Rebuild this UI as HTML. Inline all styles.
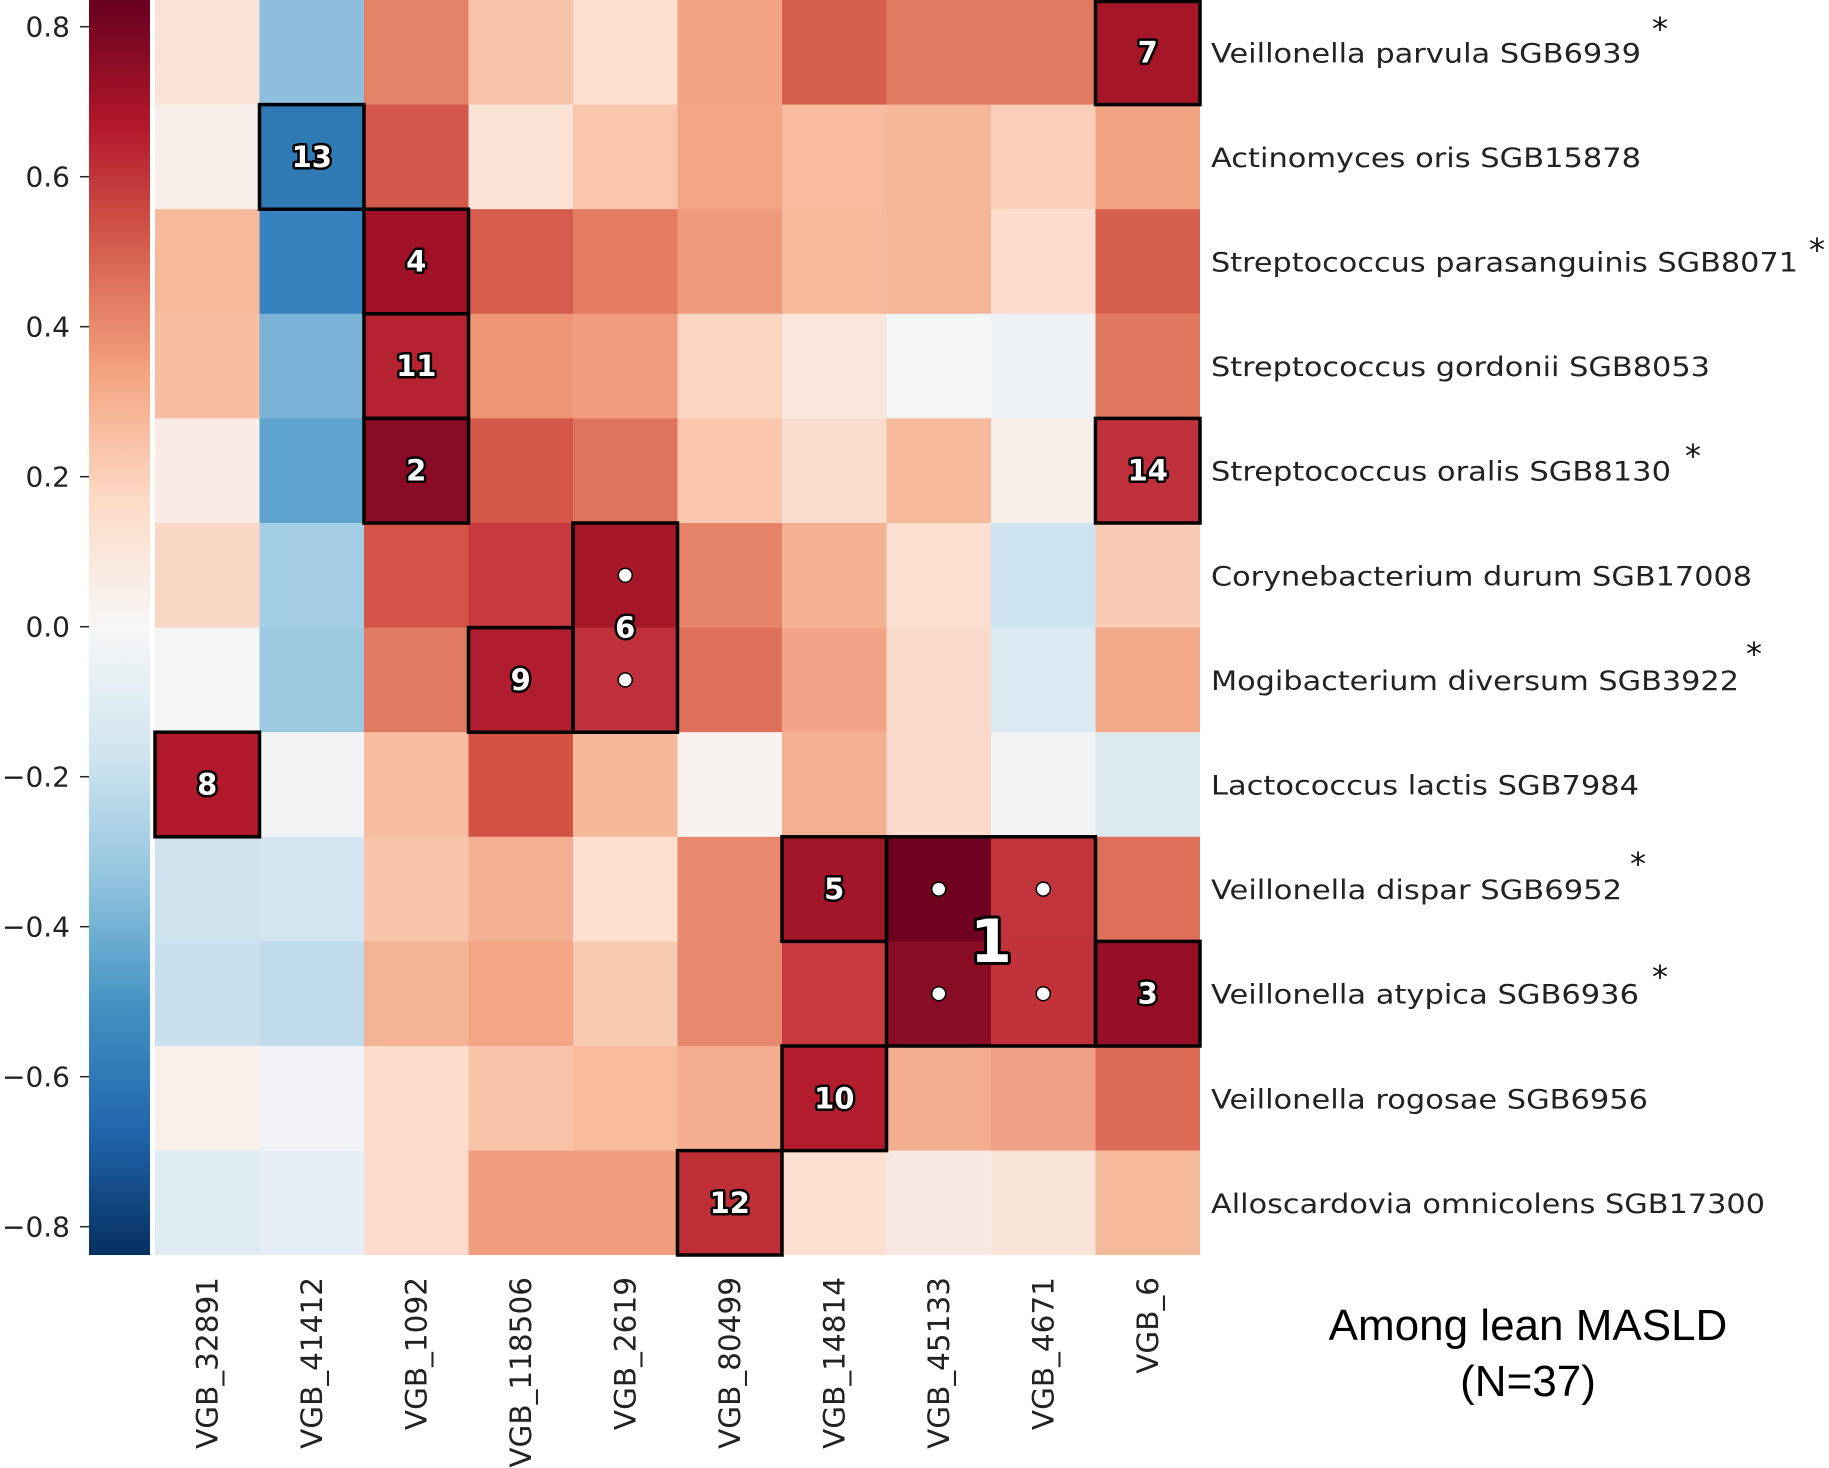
<!DOCTYPE html>
<html><head><meta charset="utf-8"><style>html,body{margin:0;padding:0;background:#fff;}svg{display:block}</style></head>
<body>
<svg width="1829" height="1468" viewBox="0 0 1829 1468" xmlns="http://www.w3.org/2000/svg" font-family="'DejaVu Sans', 'Liberation Sans', sans-serif">
<defs>
<linearGradient id="cb" x1="0" y1="0" x2="0" y2="1">
<stop offset="0" stop-color="#67001f"/><stop offset="0.1" stop-color="#b2182b"/><stop offset="0.2" stop-color="#d6604d"/><stop offset="0.3" stop-color="#f4a582"/><stop offset="0.4" stop-color="#fddbc7"/><stop offset="0.5" stop-color="#f7f7f7"/><stop offset="0.6" stop-color="#d1e5f0"/><stop offset="0.7" stop-color="#92c5de"/><stop offset="0.8" stop-color="#4393c3"/><stop offset="0.9" stop-color="#2166ac"/><stop offset="1" stop-color="#053061"/>
</linearGradient>
</defs>
<rect x="89" y="0" width="61" height="1255" fill="url(#cb)"/>

<g>
<g transform="translate(0,0)"><rect x="155" width="105" height="105" fill="#f9e2d6"/><rect x="259.5" width="105" height="105" fill="#8cbfdc"/><rect x="364" width="105" height="105" fill="#e58368"/><rect x="468.5" width="105" height="105" fill="#f8c4a9"/><rect x="573" width="105" height="105" fill="#fbe0d1"/><rect x="677.5" width="105" height="105" fill="#f3a583"/><rect x="782" width="105" height="105" fill="#d65f4d"/><rect x="886.5" width="105" height="105" fill="#e17b61"/><rect x="991" width="105" height="105" fill="#e07a60"/><rect x="1095.5" width="104.5" height="105" fill="#a41628"/></g>
<g transform="translate(0,104.6)"><rect x="155" width="105" height="105" fill="#f8ede8"/><rect x="259.5" width="105" height="105" fill="#2f79b5"/><rect x="364" width="105" height="105" fill="#d4594a"/><rect x="468.5" width="105" height="105" fill="#fbe3d6"/><rect x="573" width="105" height="105" fill="#f8c6ad"/><rect x="677.5" width="105" height="105" fill="#f2a686"/><rect x="782" width="105" height="105" fill="#f7bca0"/><rect x="886.5" width="105" height="105" fill="#f6b799"/><rect x="991" width="105" height="105" fill="#f9cfb8"/><rect x="1095.5" width="104.5" height="105" fill="#f2a482"/></g>
<g transform="translate(0,209.2)"><rect x="155" width="105" height="105" fill="#f6b99b"/><rect x="259.5" width="105" height="105" fill="#3581bd"/><rect x="364" width="105" height="105" fill="#a11228"/><rect x="468.5" width="105" height="105" fill="#d65c4b"/><rect x="573" width="105" height="105" fill="#e47c62"/><rect x="677.5" width="105" height="105" fill="#ee9a7c"/><rect x="782" width="105" height="105" fill="#f6b99b"/><rect x="886.5" width="105" height="105" fill="#f5b697"/><rect x="991" width="105" height="105" fill="#fbdccd"/><rect x="1095.5" width="104.5" height="105" fill="#d6604d"/></g>
<g transform="translate(0,313.8)"><rect x="155" width="105" height="105" fill="#f7bea2"/><rect x="259.5" width="105" height="105" fill="#7ab3d6"/><rect x="364" width="105" height="105" fill="#b52230"/><rect x="468.5" width="105" height="105" fill="#ec9676"/><rect x="573" width="105" height="105" fill="#f09d7f"/><rect x="677.5" width="105" height="105" fill="#fbd6c3"/><rect x="782" width="105" height="105" fill="#f9e7dd"/><rect x="886.5" width="105" height="105" fill="#f4f5f5"/><rect x="991" width="105" height="105" fill="#eef2f5"/><rect x="1095.5" width="104.5" height="105" fill="#e0785f"/></g>
<g transform="translate(0,418.4)"><rect x="155" width="105" height="105" fill="#f9ebe5"/><rect x="259.5" width="105" height="105" fill="#5fa3cf"/><rect x="364" width="105" height="105" fill="#8a0b25"/><rect x="468.5" width="105" height="105" fill="#d55849"/><rect x="573" width="105" height="105" fill="#df735c"/><rect x="677.5" width="105" height="105" fill="#f8c7ae"/><rect x="782" width="105" height="105" fill="#fadccd"/><rect x="886.5" width="105" height="105" fill="#f6ba9c"/><rect x="991" width="105" height="105" fill="#f8efeb"/><rect x="1095.5" width="104.5" height="105" fill="#c0303a"/></g>
<g transform="translate(0,523)"><rect x="155" width="105" height="105" fill="#fad6c4"/><rect x="259.5" width="105" height="105" fill="#a4cee4"/><rect x="364" width="105" height="105" fill="#d35446"/><rect x="468.5" width="105" height="105" fill="#c83a3f"/><rect x="573" width="105" height="105" fill="#a6172a"/><rect x="677.5" width="105" height="105" fill="#e58368"/><rect x="782" width="105" height="105" fill="#f5b293"/><rect x="886.5" width="105" height="105" fill="#fbe0d2"/><rect x="991" width="105" height="105" fill="#cde3ef"/><rect x="1095.5" width="104.5" height="105" fill="#f9cbb4"/></g>
<g transform="translate(0,627.6)"><rect x="155" width="105" height="105" fill="#f5f6f6"/><rect x="259.5" width="105" height="105" fill="#9dcae1"/><rect x="364" width="105" height="105" fill="#e07a60"/><rect x="468.5" width="105" height="105" fill="#b01d2e"/><rect x="573" width="105" height="105" fill="#c0303a"/><rect x="677.5" width="105" height="105" fill="#de6f59"/><rect x="782" width="105" height="105" fill="#f2a586"/><rect x="886.5" width="105" height="105" fill="#fadbcb"/><rect x="991" width="105" height="105" fill="#dbe9f2"/><rect x="1095.5" width="104.5" height="105" fill="#f3a988"/></g>
<g transform="translate(0,732.2)"><rect x="155" width="105" height="105" fill="#b2192d"/><rect x="259.5" width="105" height="105" fill="#f2f3f4"/><rect x="364" width="105" height="105" fill="#f7bda0"/><rect x="468.5" width="105" height="105" fill="#d25243"/><rect x="573" width="105" height="105" fill="#f6b89a"/><rect x="677.5" width="105" height="105" fill="#f8f3f1"/><rect x="782" width="105" height="105" fill="#f4b092"/><rect x="886.5" width="105" height="105" fill="#fbdacb"/><rect x="991" width="105" height="105" fill="#f2f3f5"/><rect x="1095.5" width="104.5" height="105" fill="#dde9f1"/></g>
<g transform="translate(0,836.8)"><rect x="155" width="105" height="105" fill="#cfe3ef"/><rect x="259.5" width="105" height="105" fill="#d3e5f0"/><rect x="364" width="105" height="105" fill="#f8c5ab"/><rect x="468.5" width="105" height="105" fill="#f4b092"/><rect x="573" width="105" height="105" fill="#fbe0d2"/><rect x="677.5" width="105" height="105" fill="#e8896e"/><rect x="782" width="105" height="105" fill="#a31529"/><rect x="886.5" width="105" height="105" fill="#6e0220"/><rect x="991" width="105" height="105" fill="#c1343c"/><rect x="1095.5" width="104.5" height="105" fill="#de6f59"/></g>
<g transform="translate(0,941.4)"><rect x="155" width="105" height="105" fill="#c9e0ee"/><rect x="259.5" width="105" height="105" fill="#c0dbeb"/><rect x="364" width="105" height="105" fill="#f5b395"/><rect x="468.5" width="105" height="105" fill="#f3a686"/><rect x="573" width="105" height="105" fill="#f9cab2"/><rect x="677.5" width="105" height="105" fill="#e8896e"/><rect x="782" width="105" height="105" fill="#c73a3e"/><rect x="886.5" width="105" height="105" fill="#880c24"/><rect x="991" width="105" height="105" fill="#c1323b"/><rect x="1095.5" width="104.5" height="105" fill="#970f26"/></g>
<g transform="translate(0,1046)"><rect x="155" width="105" height="105" fill="#f9efeb"/><rect x="259.5" width="105" height="105" fill="#f1f2f5"/><rect x="364" width="105" height="105" fill="#fbdccd"/><rect x="468.5" width="105" height="105" fill="#f8c3a8"/><rect x="573" width="105" height="105" fill="#f7bb9d"/><rect x="677.5" width="105" height="105" fill="#f4ae8f"/><rect x="782" width="105" height="105" fill="#b31c2c"/><rect x="886.5" width="105" height="105" fill="#f4ad8e"/><rect x="991" width="105" height="105" fill="#f1a183"/><rect x="1095.5" width="104.5" height="105" fill="#dd6b56"/></g>
<g transform="translate(0,1150.6)"><rect x="155" width="105" height="104.4" fill="#deebf3"/><rect x="259.5" width="105" height="104.4" fill="#e4eef4"/><rect x="364" width="105" height="104.4" fill="#fbdccc"/><rect x="468.5" width="105" height="104.4" fill="#f09e7e"/><rect x="573" width="105" height="104.4" fill="#f09e7e"/><rect x="677.5" width="105" height="104.4" fill="#bf2f37"/><rect x="782" width="105" height="104.4" fill="#fbe0d2"/><rect x="886.5" width="105" height="104.4" fill="#f9e8e1"/><rect x="991" width="105" height="104.4" fill="#fae5d9"/><rect x="1095.5" width="104.5" height="104.4" fill="#f6ba9c"/></g>
</g>

<g fill="none" stroke="#000" stroke-width="3.5">
<rect x="1095.5" y="1.5" width="104.5" height="103.1"/>
<rect x="259.5" y="104.6" width="104.5" height="104.6"/>
<rect x="364" y="209.2" width="104.5" height="104.6"/>
<rect x="364" y="313.8" width="104.5" height="104.6"/>
<rect x="364" y="418.4" width="104.5" height="104.6"/>
<rect x="1095.5" y="418.4" width="104.5" height="104.6"/>
<rect x="468.5" y="627.6" width="104.5" height="104.6"/>
<rect x="155" y="732.2" width="104.5" height="104.6"/>
<rect x="782" y="836.8" width="104.5" height="104.6"/>
<rect x="1095.5" y="941.4" width="104.5" height="104.6"/>
<rect x="782" y="1046" width="104.5" height="104.6"/>
<rect x="677.5" y="1150.6" width="104.5" height="104.4"/>
<rect x="573" y="523" width="104.5" height="209.2"/>
<rect x="886.5" y="836.8" width="209" height="209.2"/>
</g>

<g fill="#fff" stroke="#000" stroke-width="1.5">
<circle cx="625.25" cy="575.3" r="7"/><circle cx="625.25" cy="679.9" r="7"/>
<circle cx="938.75" cy="889.1" r="7"/><circle cx="1043.25" cy="889.1" r="7"/>
<circle cx="938.75" cy="993.7" r="7"/><circle cx="1043.25" cy="993.7" r="7"/>
</g>

<g font-size="29" font-weight="bold" fill="#fff" stroke="#000" stroke-width="5" paint-order="stroke" stroke-linejoin="round" text-anchor="middle">
<text x="1147.75" y="62.3">7</text>
<text x="311.75" y="166.9">13</text>
<text x="416.25" y="271.5">4</text>
<text x="416.25" y="376.1">11</text>
<text x="416.25" y="480.7">2</text>
<text x="1147.75" y="480.7">14</text>
<text x="520.75" y="689.9">9</text>
<text x="207.25" y="794.5">8</text>
<text x="834.25" y="899.1">5</text>
<text x="1147.75" y="1003.7">3</text>
<text x="834.25" y="1108.3">10</text>
<text x="729.75" y="1212.9">12</text>
<text x="625.25" y="637.6">6</text>
<text x="991" y="962" font-size="60" stroke-width="6">1</text>
</g>

<g stroke="#222" stroke-width="1.5">
<line x1="80" y1="26.7" x2="89" y2="26.7"/><line x1="80" y1="176.7" x2="89" y2="176.7"/><line x1="80" y1="326.7" x2="89" y2="326.7"/><line x1="80" y1="476.7" x2="89" y2="476.7"/><line x1="80" y1="626.7" x2="89" y2="626.7"/><line x1="80" y1="776.7" x2="89" y2="776.7"/><line x1="80" y1="926.7" x2="89" y2="926.7"/><line x1="80" y1="1076.7" x2="89" y2="1076.7"/><line x1="80" y1="1226.7" x2="89" y2="1226.7"/>
</g>
<g font-size="28" fill="#222" text-anchor="end">
<text x="70" y="36.7">0.8</text><text x="70" y="186.7">0.6</text><text x="70" y="336.7">0.4</text><text x="70" y="486.7">0.2</text><text x="70" y="636.7">0.0</text><text x="70" y="786.7">−0.2</text><text x="70" y="936.7">−0.4</text><text x="70" y="1086.7">−0.6</text><text x="70" y="1236.7">−0.8</text>
</g>

<g font-size="27" fill="#222">
<text x="1211" y="62.3" textLength="430" lengthAdjust="spacingAndGlyphs">Veillonella parvula SGB6939</text>
<text x="1211" y="166.9" textLength="430" lengthAdjust="spacingAndGlyphs">Actinomyces oris SGB15878</text>
<text x="1211" y="271.5" textLength="587" lengthAdjust="spacingAndGlyphs">Streptococcus parasanguinis SGB8071</text>
<text x="1211" y="376.1" textLength="499" lengthAdjust="spacingAndGlyphs">Streptococcus gordonii SGB8053</text>
<text x="1211" y="480.7" textLength="460" lengthAdjust="spacingAndGlyphs">Streptococcus oralis SGB8130</text>
<text x="1211" y="585.3" textLength="541" lengthAdjust="spacingAndGlyphs">Corynebacterium durum SGB17008</text>
<text x="1211" y="689.9" textLength="528" lengthAdjust="spacingAndGlyphs">Mogibacterium diversum SGB3922</text>
<text x="1211" y="794.5" textLength="428" lengthAdjust="spacingAndGlyphs">Lactococcus lactis SGB7984</text>
<text x="1211" y="899.1" textLength="411" lengthAdjust="spacingAndGlyphs">Veillonella dispar SGB6952</text>
<text x="1211" y="1003.7" textLength="428" lengthAdjust="spacingAndGlyphs">Veillonella atypica SGB6936</text>
<text x="1211" y="1108.3" textLength="437" lengthAdjust="spacingAndGlyphs">Veillonella rogosae SGB6956</text>
<text x="1211" y="1212.9" textLength="554" lengthAdjust="spacingAndGlyphs">Alloscardovia omnicolens SGB17300</text>
</g>

<g font-size="32" fill="#111" text-anchor="middle">
<text x="1660" y="40">*</text><text x="1817" y="261">*</text><text x="1693" y="467">*</text><text x="1754" y="665">*</text><text x="1638" y="875">*</text><text x="1660" y="988">*</text>
</g>

<g font-size="29.5" fill="#222" text-anchor="end">
<text transform="translate(217.25,1277) rotate(-90)">VGB_32891</text>
<text transform="translate(321.75,1277) rotate(-90)">VGB_41412</text>
<text transform="translate(426.25,1277) rotate(-90)">VGB_1092</text>
<text transform="translate(530.75,1277) rotate(-90)">VGB_118506</text>
<text transform="translate(635.25,1277) rotate(-90)">VGB_2619</text>
<text transform="translate(739.75,1277) rotate(-90)">VGB_80499</text>
<text transform="translate(844.25,1277) rotate(-90)">VGB_14814</text>
<text transform="translate(948.75,1277) rotate(-90)">VGB_45133</text>
<text transform="translate(1053.25,1277) rotate(-90)">VGB_4671</text>
<text transform="translate(1157.75,1277) rotate(-90)">VGB_6</text>
</g>

<g font-size="44" font-family="'Liberation Sans', sans-serif" text-anchor="middle" fill="#000">
<text x="1528" y="1340">Among lean MASLD</text>
<text x="1528" y="1396">(N=37)</text>
</g>
</svg>
</body></html>
